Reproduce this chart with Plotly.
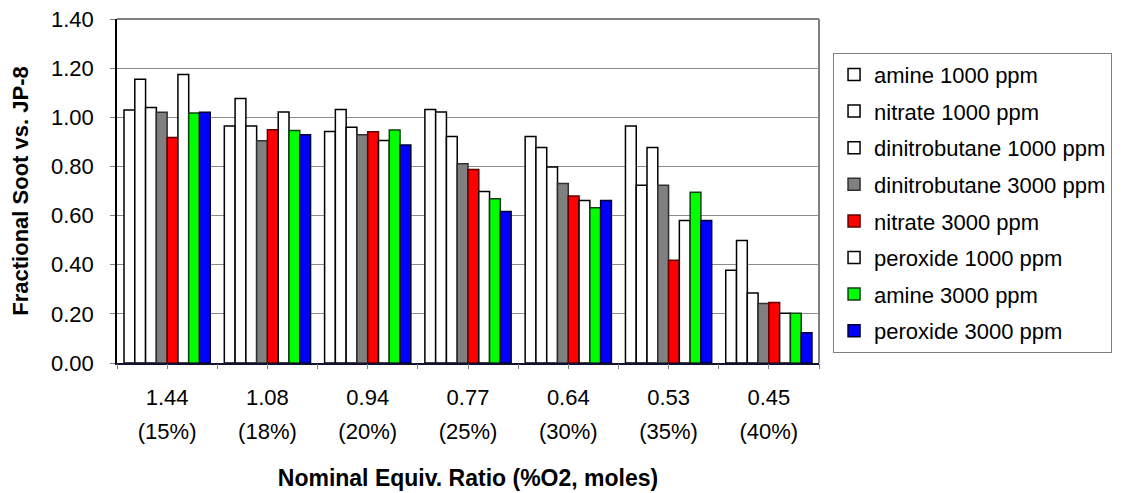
import plotly.graph_objects as go

equiv_labels = ["1.44", "1.08", "0.94", "0.77", "0.64", "0.53", "0.45"]
o2_labels = ["(15%)", "(18%)", "(20%)", "(25%)", "(30%)", "(35%)", "(40%)"]

series_names = [
    "amine 1000 ppm", "nitrate 1000 ppm", "dinitrobutane 1000 ppm",
    "dinitrobutane 3000 ppm", "nitrate 3000 ppm", "peroxide 1000 ppm",
    "amine 3000 ppm", "peroxide 3000 ppm",
]
amine_1000 = [1.03, 0.965, 0.942, 1.032, 0.922, 0.965, 0.377]
nitrate_1000 = [1.155, 1.076, 1.032, 1.022, 0.877, 0.723, 0.499]
dinitrobutane_1000 = [1.04, 0.965, 0.959, 0.922, 0.798, 0.877, 0.285]
dinitrobutane_3000 = [1.02, 0.905, 0.929, 0.811, 0.731, 0.723, 0.242]
nitrate_3000 = [0.918, 0.949, 0.941, 0.787, 0.680, 0.418, 0.246]
peroxide_1000 = [1.174, 1.022, 0.906, 0.698, 0.661, 0.580, 0.202]
amine_3000 = [1.017, 0.946, 0.948, 0.668, 0.632, 0.695, 0.202]
peroxide_3000 = [1.021, 0.929, 0.887, 0.617, 0.661, 0.580, 0.123]

series_values = [amine_1000, nitrate_1000, dinitrobutane_1000, dinitrobutane_3000,
                 nitrate_3000, peroxide_1000, amine_3000, peroxide_3000]
fill_colors = ["#ffffff", "#ffffff", "#ffffff", "#808080",
               "#ff0000", "#ffffff", "#00ff00", "#0000ff"]
line_colors = ["#000000", "#000000", "#000000", "#303030",
               "#600000", "#000000", "#104010", "#000030"]

FONT = "Liberation Sans, Arial, sans-serif"
positions = list(range(len(equiv_labels)))

fig = go.Figure()
for i, (name, vals) in enumerate(zip(series_names, series_values)):
    fig.add_trace(go.Bar(
        x=positions, y=vals, name=name,
        legendgroup=f"g{i}",
        marker=dict(color=fill_colors[i], line=dict(color=line_colors[i], width=1.5)),
    ))

# invisible helper trace so the secondary (percentage) axis gets drawn
fig.add_trace(go.Scatter(
    x=positions, y=[None] * len(positions), xaxis="x2", yaxis="y",
    mode="markers", marker=dict(opacity=0), showlegend=False, hoverinfo="skip",
))

fig.update_layout(
    width=1131, height=493,
    margin=dict(l=117, r=312, t=19, b=130, autoexpand=False),
    paper_bgcolor="white", plot_bgcolor="white",
    barmode="group", bargap=0.14, bargroupgap=0,
    font=dict(family=FONT, size=21, color="black"),
    showlegend=True,
    legend=dict(
        x=1.02, xanchor="left", y=0.902, yanchor="top",
        bordercolor="#808080", borderwidth=1,
        font=dict(family=FONT, size=22, color="black"),
        tracegroupgap=5, itemwidth=30,
    ),
    xaxis=dict(
        type="linear", range=[-0.5, 6.5],
        tickvals=positions, ticktext=equiv_labels,
        ticks="", showgrid=False, zeroline=False,
        showline=True, linecolor="#101030", linewidth=1.5,
        tickfont=dict(size=22), ticklabelstandoff=14,
        title=dict(text="<b>Nominal Equiv. Ratio (%O2, moles)</b>",
                   font=dict(size=23), standoff=61),
    ),
    xaxis2=dict(
        type="linear", range=[-0.5, 6.5], overlaying="x", anchor="y", side="bottom",
        tickvals=[i - 0.5 for i in range(8)] + positions,
        ticktext=[""] * 8 + o2_labels,
        ticks="outside", ticklen=5, tickcolor="#808080", tickwidth=1,
        showgrid=False, zeroline=False, showline=False,
        tickfont=dict(size=22), ticklabelstandoff=44,
    ),
    yaxis=dict(
        range=[0, 1.4], dtick=0.2, tickformat=".2f",
        ticks="outside", ticklen=5, tickcolor="#808080",
        showgrid=True, gridcolor="#8c8c8c", gridwidth=1,
        zeroline=False, showline=True, linecolor="black", linewidth=1.5,
        tickfont=dict(size=22), ticklabelstandoff=12,
        title=dict(text="<b>Fractional Soot vs. JP-8</b>", font=dict(size=22), standoff=16),
    ),
    shapes=[
        dict(type="line", xref="paper", yref="paper", x0=0, x1=1, y0=1, y1=1,
             line=dict(color="#808080", width=2)),
        dict(type="line", xref="paper", yref="paper", x0=1, x1=1, y0=0, y1=1,
             line=dict(color="#808080", width=2)),
    ],
)

fig.write_html("out.html")
